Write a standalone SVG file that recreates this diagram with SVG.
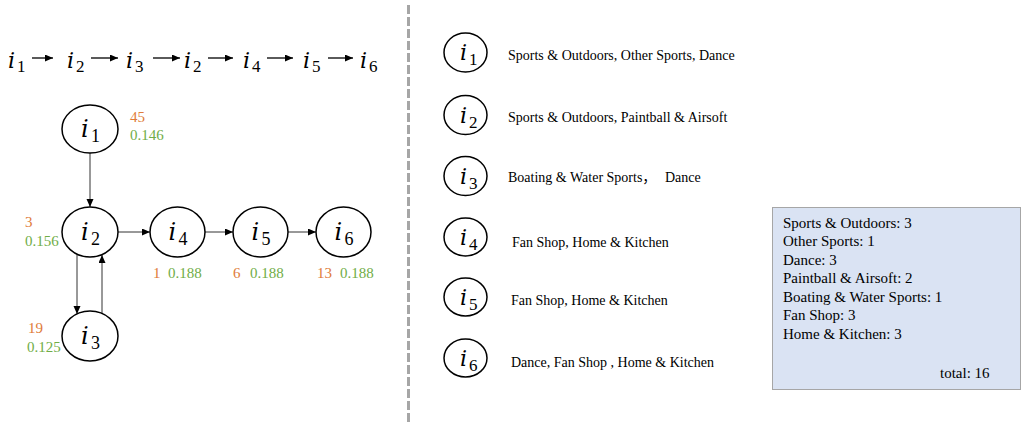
<svg xmlns="http://www.w3.org/2000/svg" width="1023" height="426" viewBox="0 0 1023 426">
<style>
.node{fill:#fff;stroke:#000;stroke-width:1.5}
.mi{font-family:"DejaVu Serif",serif;font-style:italic;fill:#000}
.sub{font-family:"Liberation Serif",serif;fill:#000}
.edge{stroke:#333;stroke-width:1;fill:none}
.seq{stroke:#000;stroke-width:1.3;fill:none}
.or{font-family:"Liberation Serif",serif;font-size:15px;fill:#E07B39}
.gr{font-family:"Liberation Serif",serif;font-size:15px;fill:#70AD47}
.desc{font-family:"Liberation Serif","Noto Sans CJK SC",serif;font-size:14px;fill:#000}
.box{font-family:"Liberation Serif",serif;font-size:15px;fill:#000}
</style>
<defs>
<marker id="ah" markerUnits="userSpaceOnUse" markerWidth="9" markerHeight="8" refX="8" refY="3.5" orient="auto">
<path d="M0,0 L8,3.5 L0,7 z" fill="#000"/>
</marker>
</defs>

<!-- divider -->
<line x1="408.5" y1="5" x2="408.5" y2="424" stroke="#A6A6A6" stroke-width="3" stroke-dasharray="9 3"/>

<!-- top sequence -->
<g id="sequence">
<text class="mi" x="8" y="68" font-size="22">i</text><text class="sub" x="17" y="72" font-size="17">1</text>
<text class="mi" x="67" y="68" font-size="22">i</text><text class="sub" x="76" y="72" font-size="17">2</text>
<text class="mi" x="126" y="68" font-size="22">i</text><text class="sub" x="135" y="72" font-size="17">3</text>
<text class="mi" x="184" y="68" font-size="22">i</text><text class="sub" x="193" y="72" font-size="17">2</text>
<text class="mi" x="243" y="68" font-size="22">i</text><text class="sub" x="252" y="72" font-size="17">4</text>
<text class="mi" x="303" y="68" font-size="22">i</text><text class="sub" x="312" y="72" font-size="17">5</text>
<text class="mi" x="360" y="68" font-size="22">i</text><text class="sub" x="369" y="72" font-size="17">6</text>
<line class="seq" x1="32" y1="58" x2="53" y2="58" marker-end="url(#ah)"/>
<line class="seq" x1="91" y1="58" x2="118" y2="58" marker-end="url(#ah)"/>
<line class="seq" x1="153" y1="58" x2="180" y2="58" marker-end="url(#ah)"/>
<line class="seq" x1="208" y1="58" x2="233" y2="58" marker-end="url(#ah)"/>
<line class="seq" x1="267" y1="58" x2="293" y2="58" marker-end="url(#ah)"/>
<line class="seq" x1="328" y1="58" x2="353" y2="58" marker-end="url(#ah)"/>
</g>

<!-- connectors -->
<g id="connectors">
<line class="edge" x1="90" y1="153" x2="90" y2="207" marker-end="url(#ah)"/>
<line class="edge" x1="118" y1="232" x2="150" y2="232" marker-end="url(#ah)"/>
<line class="edge" x1="205" y1="232" x2="233" y2="232" marker-end="url(#ah)"/>
<line class="edge" x1="288" y1="232" x2="316" y2="232" marker-end="url(#ah)"/>
<line class="edge" x1="77" y1="252" x2="77" y2="314" marker-end="url(#ah)"/>
<line class="edge" x1="102" y1="313" x2="102" y2="255" marker-end="url(#ah)"/>
</g>

<!-- graph nodes -->
<g id="n1">
<ellipse class="node" cx="90" cy="129" rx="28" ry="24"/>
<text class="mi" x="81" y="137" font-size="24">i</text><text class="sub" x="91" y="142" font-size="18">1</text>
<text class="or" x="130" y="122">45</text>
<text class="gr" x="130" y="140">0.146</text>
</g>
<g id="n2">
<ellipse class="node" cx="90" cy="232" rx="28" ry="25"/>
<text class="mi" x="81" y="240" font-size="24">i</text><text class="sub" x="91" y="245" font-size="18">2</text>
<text class="or" x="25" y="227">3</text>
<text class="gr" x="25" y="246">0.156</text>
</g>
<g id="n3">
<ellipse class="node" cx="90" cy="336" rx="28" ry="25"/>
<text class="mi" x="81" y="344" font-size="24">i</text><text class="sub" x="91" y="349" font-size="18">3</text>
<text class="or" x="28" y="333">19</text>
<text class="gr" x="27" y="352">0.125</text>
</g>
<g id="n4">
<ellipse class="node" cx="177.5" cy="232" rx="27.5" ry="25"/>
<text class="mi" x="168.5" y="240" font-size="24">i</text><text class="sub" x="178.5" y="245" font-size="18">4</text>
<text class="or" x="153" y="278">1</text>
<text class="gr" x="168" y="278">0.188</text>
</g>
<g id="n5">
<ellipse class="node" cx="260.5" cy="232" rx="27.5" ry="25"/>
<text class="mi" x="251.5" y="240" font-size="24">i</text><text class="sub" x="261.5" y="245" font-size="18">5</text>
<text class="or" x="233" y="278">6</text>
<text class="gr" x="250" y="278">0.188</text>
</g>
<g id="n6">
<ellipse class="node" cx="343.5" cy="232" rx="27.5" ry="25"/>
<text class="mi" x="334.5" y="240" font-size="24">i</text><text class="sub" x="344.5" y="245" font-size="18">6</text>
<text class="or" x="317" y="278">13</text>
<text class="gr" x="340" y="278">0.188</text>
</g>

<!-- legend items -->
<g id="l1">
<ellipse class="node" cx="465.5" cy="52.5" rx="21.5" ry="19.5"/>
<text class="mi" x="460" y="60" font-size="22">i</text><text class="sub" x="469" y="65" font-size="17">1</text>
<text class="desc" x="508" y="59.5">Sports &amp; Outdoors, Other Sports, Dance</text>
</g>
<g id="l2">
<ellipse class="node" cx="465.5" cy="115" rx="21.5" ry="19.5"/>
<text class="mi" x="460" y="122.5" font-size="22">i</text><text class="sub" x="469" y="127.5" font-size="17">2</text>
<text class="desc" x="508" y="121.5">Sports &amp; Outdoors, Paintball &amp; Airsoft</text>
</g>
<g id="l3">
<ellipse class="node" cx="465.5" cy="176" rx="21.5" ry="19.5"/>
<text class="mi" x="460" y="183.5" font-size="22">i</text><text class="sub" x="469" y="188.5" font-size="17">3</text>
<text class="desc" x="508" y="181.5">Boating &amp; Water Sports，</text>
<text class="desc" x="665" y="181.5">Dance</text>
</g>
<g id="l4">
<ellipse class="node" cx="465.5" cy="237" rx="21.5" ry="19"/>
<text class="mi" x="460" y="244.5" font-size="22">i</text><text class="sub" x="469" y="249.5" font-size="17">4</text>
<text class="desc" x="512" y="246.5">Fan Shop, Home &amp; Kitchen</text>
</g>
<g id="l5">
<ellipse class="node" cx="465.5" cy="297" rx="21.5" ry="19"/>
<text class="mi" x="460" y="304.5" font-size="22">i</text><text class="sub" x="469" y="309.5" font-size="17">5</text>
<text class="desc" x="511" y="304.5">Fan Shop, Home &amp; Kitchen</text>
</g>
<g id="l6">
<ellipse class="node" cx="465.5" cy="358" rx="21.5" ry="19"/>
<text class="mi" x="460" y="365.5" font-size="22">i</text><text class="sub" x="469" y="370.5" font-size="17">6</text>
<text class="desc" x="511" y="366.5">Dance, Fan Shop , Home &amp; Kitchen</text>
</g>

<!-- summary box -->
<g id="summary">
<rect x="772.5" y="207.5" width="248" height="182" fill="#DAE3F3" stroke="#A6A6A6" stroke-width="1"/>
<text class="box" x="783" y="228">Sports &amp; Outdoors: 3</text>
<text class="box" x="783" y="246">Other Sports: 1</text>
<text class="box" x="783" y="264.5">Dance: 3</text>
<text class="box" x="783" y="283">Paintball &amp; Airsoft: 2</text>
<text class="box" x="783" y="301.5">Boating &amp; Water Sports: 1</text>
<text class="box" x="783" y="320">Fan Shop: 3</text>
<text class="box" x="783" y="338.5">Home &amp; Kitchen: 3</text>
<text class="box" x="940" y="378">total: 16</text>
</g>
</svg>
